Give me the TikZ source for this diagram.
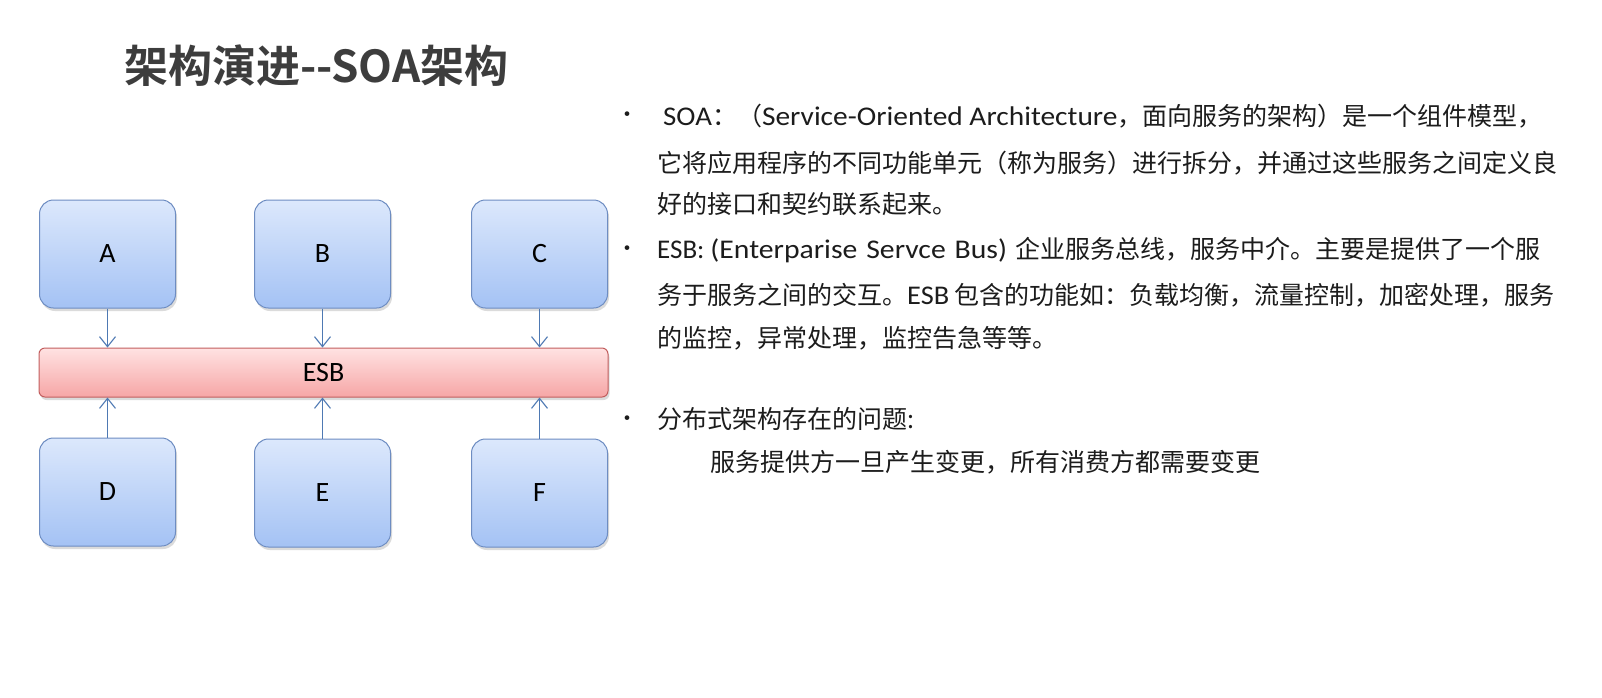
\documentclass[tikz,border=0pt]{standalone}
\usepackage{fontspec}
\setmainfont{Noto Sans CJK SC}
\newfontfamily\lat{Carlito}
\newfontfamily\titlefont{Noto Sans CJK SC Bold}
\usetikzlibrary{arrows.meta,shadows}

\definecolor{boxtop}{HTML}{DCE8FC}
\definecolor{boxbot}{HTML}{A4C2F4}
\definecolor{boxline}{HTML}{6E8DC2}
\definecolor{esbtop}{HTML}{FFE2E2}
\definecolor{esbbot}{HTML}{F6A6A6}
\definecolor{esbline}{HTML}{C25E5E}
\definecolor{link}{HTML}{4E79B3}
\definecolor{ink}{HTML}{1C1C1C}
\definecolor{titleink}{HTML}{3D3D3D}

% Latin run in the body text, stretched horizontally by #1
\newcommand\latrun[2]{\scalebox{#1}[1]{\lat\fontsize{27}{27}\selectfont #2}}

\begin{document}
\begin{tikzpicture}[x=1pt,y=-1pt,
  svc/.style={draw=boxline, line width=1pt, rounded corners=14pt,
    top color=boxtop, bottom color=boxbot,
    minimum width=136pt, minimum height=108pt, inner sep=0pt,
    font=\lat\fontsize{28}{28}\selectfont,
    drop shadow={shadow xshift=1.5pt, shadow yshift=-3pt, opacity=0.28, fill=black!50}},
  bus/.style={draw=esbline, line width=1pt, rounded corners=6pt,
    top color=esbtop, bottom color=esbbot,
    minimum width=569pt, minimum height=49pt, inner sep=0pt,
    font=\lat\fontsize{28}{28}\selectfont,
    drop shadow={shadow xshift=1.5pt, shadow yshift=-3pt, opacity=0.28, fill=black!50}},
  conn/.style={draw=link, line width=1.2pt, -{Straight Barb[length=10pt,width=16pt,line width=1.1pt]}},
  txt/.style={anchor=base west, inner sep=0pt,
    font=\fontsize{25}{25}\selectfont, text=ink},
  bul/.style={inner sep=0pt, font=\fontsize{22}{22}\selectfont, text=ink},
  heading/.style={anchor=base west, inner sep=0pt,
    font=\titlefont\fontsize{44}{44}\selectfont, text=titleink}]

% page
\fill[white] (0,0) rectangle (1602,697);
\useasboundingbox (0,0) rectangle (1602,697);

% heading
\node[heading] (title) at (124,82) {架构演进--SOA架构};

% services and bus
\node[svc] (A) at (107.5,254) {A};
\node[svc] (B) at (322.5,254) {B};
\node[svc] (C) at (539.5,254) {C};
\node[bus] (esb) at (323.5,372.5) {ESB};
\node[svc] (D) at (107.5,492) {D};
\node[svc] (E) at (322.5,493) {E};
\node[svc] (F) at (539.5,493) {F};

\draw[conn] (A.south) -- (A.south |- esb.north);
\draw[conn] (B.south) -- (B.south |- esb.north);
\draw[conn] (C.south) -- (C.south |- esb.north);
\draw[conn] (D.north) -- (D.north |- esb.south);
\draw[conn] (E.north) -- (E.north |- esb.south);
\draw[conn] (F.north) -- (F.north |- esb.south);

% bullet list
\node[bul] (b1) at (627,117) {•};
\node[txt] (t1) at (663,125) {\latrun{1.07}{SOA}：（\latrun{1.09}{Service-Oriented Architecture}，面向服务的架构）是一个组件模型，};
\node[txt] (t2) at (657,172) {它将应用程序的不同功能单元（称为服务）进行拆分，并通过这些服务之间定义良};
\node[txt] (t3) at (657,213) {好的接口和契约联系起来。};

\node[bul] (b2) at (627,251) {•};
\node[txt] (t4) at (657,258.5) {\latrun{1}{ESB:}\hspace{6pt}\latrun{1.1}{(Enterparise\hspace{2pt} Servce\hspace{2pt} Bus)}\hspace{8pt}企业服务总线，服务中介。主要是提供了一个服};
\node[txt] (t5) at (657,304) {务于服务之间的交互。\latrun{1.05}{ESB} 包含的功能如：负载均衡，流量控制，加密处理，服务};
\node[txt] (t6) at (657,347) {的监控，异常处理，监控告急等等。};

\node[bul] (b3) at (627,421) {•};
\node[txt] (t7) at (657,428.5) {分布式架构存在的问题:};
\node[txt] (t8) at (710,471.5) {服务提供方一旦产生变更，所有消费方都需要变更};
\end{tikzpicture}
\end{document}
